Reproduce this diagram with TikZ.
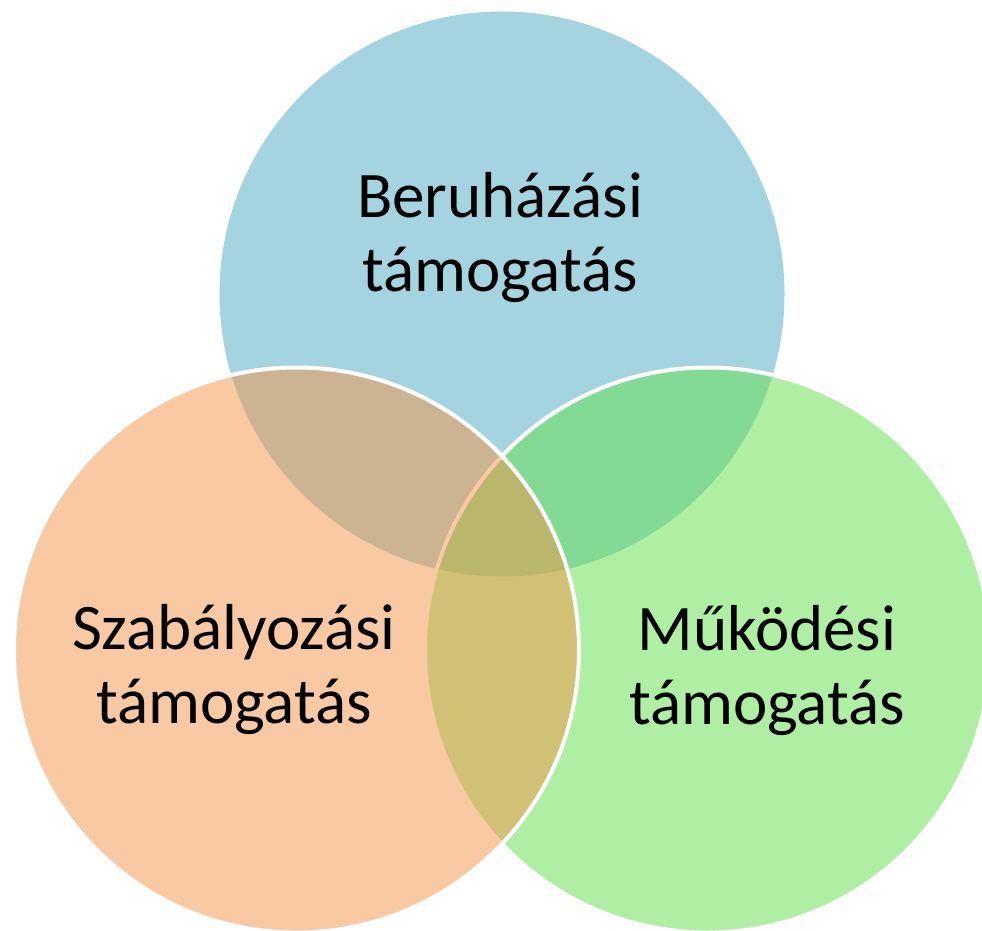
\documentclass[tikz,border=0pt]{standalone}
\usepackage{fontspec}
\setmainfont{Carlito}
\definecolor{cblue}{RGB}{77,171,197}
\definecolor{cgreen}{RGB}{97,225,73}
\definecolor{corange}{RGB}{243,149,71}
\begin{document}
\begin{tikzpicture}[x=1pt,y=-1pt,
  venn/.style={circle, minimum size=565pt, inner sep=0pt, outer sep=0pt, fill opacity=0.5},
  vennline/.style={draw=white, line width=4pt, draw opacity=1},
  lbl/.style={font=\fontsize{65}{74}\selectfont, align=center, text=black, anchor=base, inner sep=0pt}]
\fill[white] (0,0) rectangle (982,931);
\useasboundingbox (0,0) rectangle (982,931);
\clip (0,0) rectangle (982,931);
\node[venn, fill=cblue] (top) at (502,294) {};
\node[venn, fill=cgreen, vennline] (right) at (707.5,650) {};
\node[venn, fill=corange, vennline] (left) at (296.5,650) {};
\node[lbl] (ttop) at (500,291) {Beruházási\\támogatás};
\node[lbl] (tleft) at (234,723) {Szabályozási\\támogatás};
\node[lbl] (tright) at (767,724) {Működési\\támogatás};
\end{tikzpicture}
\end{document}
